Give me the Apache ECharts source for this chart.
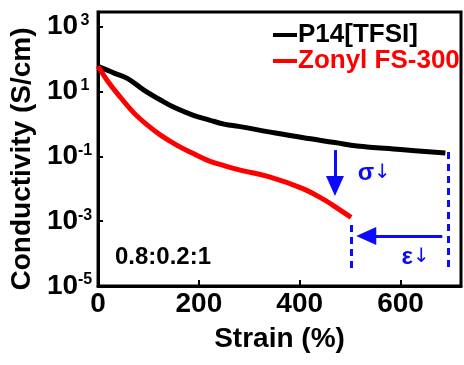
<!DOCTYPE html>
<html>
<head>
<meta charset="utf-8">
<title></title>
<script src="https://cdn.jsdelivr.net/npm/echarts@6/dist/echarts.min.js"></script>
</head>
<body style="margin:0;overflow:hidden;">
<div id="my" style="width:464px;height:365px;"></div>
<script>
var font = '"Liberation Sans", Arial, sans-serif';
var blue = '#0a0aff';

// P14[TFSI]
var strainA = [0, 33, 58, 91, 124, 155, 188, 221, 252, 279, 339, 405, 470, 514, 600, 689];
var condA = [60, 36.5, 25.5, 11.1, 5.47, 3.03, 1.88, 1.32, 0.97, 0.84, 0.57, 0.38, 0.267, 0.208, 0.163, 0.126];
// Zonyl FS-300
var strainB = [0, 20, 46, 72, 98, 124, 156, 188, 221, 253, 282, 340, 405, 450, 470, 502];
var condB = [60, 20, 6.2, 2.12, 0.92, 0.454, 0.223, 0.124, 0.0716, 0.0502, 0.0378, 0.0234, 0.0103, 0.00448, 0.0028, 0.00131];

var names = ['P14[TFSI]', 'Zonyl FS-300'];
var xTicks = [0, 200, 400, 600];
var ratioText = '0.8:0.2:1';

function pairs(xs, ys) {
	var out = [];
	for (var i = 0; i < xs.length; i++) out.push([xs[i], ys[i]]);
	return out;
}

var myChart = echarts.init(document.getElementById('my'));

var option = {
	animation: false,
	grid: {
		left: 98, top: 12, right: -5, bottom: 79,
		show: true, borderColor: '#000', borderWidth: 3
	},
	legend: {
		orient: 'vertical',
		left: 268, top: 17,
		icon: 'rect', itemWidth: 24, itemHeight: 4, itemGap: 0,
		textStyle: { fontSize: 26, fontWeight: 'bold', fontFamily: font, lineHeight: 23, padding: [0, 0, 0, -4] },
		data: [
			{ name: names[0], textStyle: { color: '#000' } },
			{ name: names[1], textStyle: { color: '#ff0000' } }
		]
	},
	xAxis: {
		type: 'value', min: 0, max: 720, interval: 200,
		name: 'Strain (%)', nameLocation: 'middle', nameGap: 39,
		nameTextStyle: { fontSize: 28, fontWeight: 'bold', fontFamily: font, color: '#000' },
		axisLine: { lineStyle: { color: '#000', width: 3 } },
		axisTick: { inside: true, length: 6, lineStyle: { width: 2 } },
		splitLine: { show: false },
		axisLabel: {
			margin: 4, fontSize: 28, fontWeight: 'bold', fontFamily: font, color: '#000',
			formatter: function (v) { return xTicks.indexOf(v) >= 0 ? String(v) : ''; }
		}
	},
	yAxis: {
		type: 'log', logBase: 10, min: 1e-5, max: 2846, interval: 2,
		name: 'Conductivity (S/cm)', nameLocation: 'middle', nameGap: 56,
		nameTextStyle: { fontSize: 28, fontWeight: 'bold', fontFamily: font, color: '#000', padding: [0, 20, 0, 0] },
		axisLine: { lineStyle: { color: '#000', width: 3 } },
		axisTick: { inside: true, length: 5, lineStyle: { width: 2 } },
		splitLine: { show: false },
		minorTick: { show: false },
		axisLabel: {
			margin: 6,
			formatter: function (v) {
				var l = Math.log10(v), e = Math.round(l);
				if (Math.abs(l - e) > 1e-6 || e % 2 === 0) return '';
				return '{b|10}{s|' + e + '}';
			},
			rich: {
				b: { fontSize: 28, fontWeight: 'bold', fontFamily: font, color: '#000', lineHeight: 28 },
				s: { fontSize: 16, fontWeight: 'bold', fontFamily: font, color: '#000', verticalAlign: 'top', width: 14, align: 'left', lineHeight: 16 }
			}
		}
	},
	graphic: [{
		type: 'text', left: 115, top: 245,
		style: { text: ratioText, font: 'bold 24px ' + font, fill: '#000' }
	}],
	series: [
		{
			name: names[0], type: 'line', data: pairs(strainA, condA),
			smooth: 0.4, showSymbol: false, color: '#000',
			lineStyle: { width: 5, color: '#000' }
		},
		{
			name: names[1], type: 'line', data: pairs(strainB, condB),
			smooth: 0.4, showSymbol: false, color: '#ff0000',
			lineStyle: { width: 5, color: '#ff0000' },
			markLine: {
				silent: true, symbol: ['none', 'none'],
				label: { show: false },
				lineStyle: { color: blue, width: 3, type: 'solid' },
				data: [
					[{ coord: [695, 0.136], lineStyle: { type: [7, 5], color: blue, width: 3 } }, { coord: [695, 3.57e-5] }],
					[{ coord: [502, 7.6e-4], lineStyle: { type: [7, 5], color: blue, width: 3 } }, { coord: [502, 3.57e-5] }],
					[{ coord: [470, 0.156] }, { coord: [470, 0.0121], symbol: 'triangle', symbolSize: [18, 20] }],
					[{ coord: [683, 3.5e-4] }, { coord: [532, 3.5e-4], symbol: 'triangle', symbolSize: [18, 20] }]
				]
			},
			markPoint: {
				silent: true, symbol: 'circle', symbolSize: 1,
				itemStyle: { color: 'rgba(0,0,0,0)' },
				label: {
					show: true, position: 'inside', color: blue,
					formatter: function (p) { return '{a|' + p.name + '}{b|↓}'; },
					rich: {
						a: { fontSize: 24, fontWeight: 'bold', fontFamily: font, color: blue },
						b: { fontSize: 20, fontFamily: 'DejaVu Sans', color: blue }
					}
				},
				data: [
					{ name: 'σ', coord: [548, 0.0305] },
					{ name: 'ε', coord: [630, 7.8e-5] }
				]
			}
		}
	]
};

myChart.setOption(option);
</script>
</body>
</html>
